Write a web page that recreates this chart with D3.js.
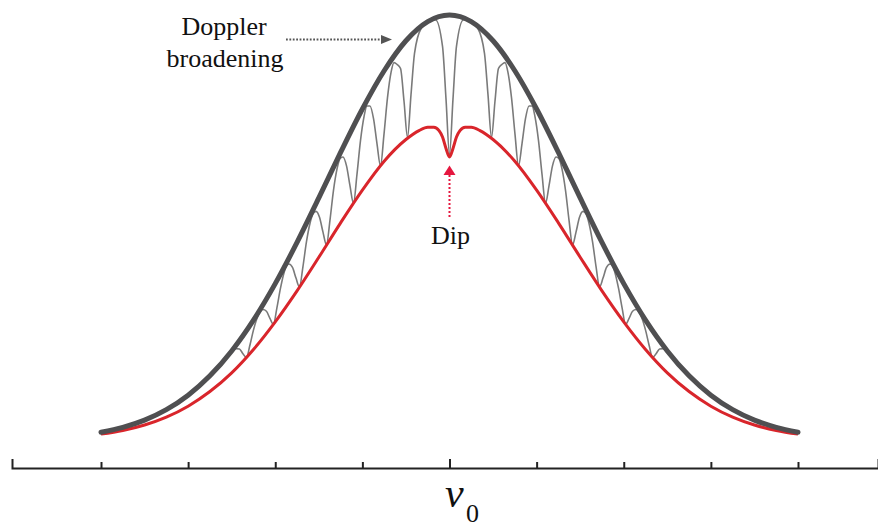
<!DOCTYPE html>
<html><head><meta charset="utf-8">
<script src="https://cdn.jsdelivr.net/npm/d3@7"></script>
<style>html,body{margin:0;padding:0;background:#fff;} svg{display:block;}</style>
</head><body>
<svg id="chart" width="878" height="527"></svg>
<script>
// Frequency axis (detuning, arbitrary units; v0 at 0)
const tickValues = [-4, -3, -2, -1, 0, 1, 2, 3, 4];

// Doppler-broadened envelope (thick gray)
const envelopeV = [-4, -3.75, -3.5, -3.25, -3, -2.75, -2.5, -2.25, -2, -1.75, -1.5, -1.25, -1, -0.75, -0.5, -0.25, 0,
                   0.25, 0.5, 0.75, 1, 1.25, 1.5, 1.75, 2, 2.25, 2.5, 2.75, 3, 3.25, 3.5, 3.75, 4];
const envelopeI = [0.0183, 0.0297, 0.0468, 0.0713, 0.1054, 0.1510, 0.2096, 0.2821, 0.3679, 0.4650, 0.5698, 0.6766, 0.7788, 0.8688, 0.9394, 0.9845, 1.0,
                   0.9845, 0.9394, 0.8688, 0.7788, 0.6766, 0.5698, 0.4650, 0.3679, 0.2821, 0.2096, 0.1510, 0.1054, 0.0713, 0.0468, 0.0297, 0.0183];

// Red profile with central dip
const redV = [-4, -3.75, -3.5, -3.25, -3, -2.75, -2.5, -2.25, -2, -1.75, -1.5, -1.25, -1, -0.75, -0.5, -0.35, -0.25, -0.18, -0.12, -0.08, -0.04, 0,
              0.04, 0.08, 0.12, 0.18, 0.25, 0.35, 0.5, 0.75, 1, 1.25, 1.5, 1.75, 2, 2.25, 2.5, 2.75, 3, 3.25, 3.5, 3.75, 4];
const redI = [0.0138, 0.0224, 0.0353, 0.0538, 0.0796, 0.114, 0.158, 0.213, 0.278, 0.351, 0.430, 0.511, 0.588, 0.656, 0.707, 0.728, 0.736, 0.736, 0.728, 0.713, 0.686, 0.666,
              0.686, 0.713, 0.728, 0.736, 0.736, 0.728, 0.707, 0.656, 0.588, 0.511, 0.430, 0.351, 0.278, 0.213, 0.158, 0.114, 0.0796, 0.0538, 0.0353, 0.0224, 0.0138];

// Thin gray comb (velocity-selective dips)
const thinV = [-2.8, -2.6, -2.52, -2.452, -2.411, -2.371, -2.331, -2.291, -2.251, -2.210, -2.176, -2.142, -2.101, -2.061, -2.021,
               -1.981, -1.941, -1.900, -1.872, -1.843, -1.802, -1.762, -1.722, -1.682, -1.642, -1.601, -1.567, -1.533, -1.492, -1.452,
               -1.412, -1.372, -1.332, -1.291, -1.257, -1.223, -1.182, -1.142, -1.102, -1.062, -1.022, -0.981, -0.947, -0.913, -0.872,
               -0.832, -0.792, -0.752, -0.712, -0.671, -0.637, -0.603, -0.562, -0.522, -0.482, -0.442, -0.402, -0.322, -0.241, -0.161,
               -0.080, -0.040, 0,
               0.040, 0.080, 0.161, 0.241, 0.322, 0.402, 0.442, 0.482, 0.522, 0.562, 0.603, 0.637, 0.671, 0.712, 0.752,
               0.792, 0.832, 0.872, 0.913, 0.947, 0.981, 1.022, 1.062, 1.102, 1.142, 1.182, 1.223, 1.257, 1.291, 1.332,
               1.372, 1.412, 1.452, 1.492, 1.533, 1.567, 1.601, 1.642, 1.682, 1.722, 1.762, 1.802, 1.843, 1.872, 1.900,
               1.941, 1.981, 2.021, 2.061, 2.101, 2.142, 2.176, 2.210, 2.251, 2.291, 2.331, 2.371, 2.411, 2.452, 2.52,
               2.6, 2.8];
const thinI = [0.1409, 0.1845, 0.202, 0.215, 0.214, 0.203, 0.194, 0.223, 0.258, 0.286, 0.301, 0.307, 0.303, 0.286, 0.272,
               0.311, 0.356, 0.393, 0.409, 0.414, 0.406, 0.381, 0.360, 0.408, 0.466, 0.510, 0.532, 0.538, 0.524, 0.489,
               0.459, 0.517, 0.587, 0.638, 0.662, 0.666, 0.645, 0.598, 0.557, 0.625, 0.704, 0.761, 0.786, 0.786, 0.756,
               0.697, 0.645, 0.719, 0.805, 0.865, 0.888, 0.884, 0.874, 0.797, 0.712, 0.812, 0.909, 0.970, 0.984, 0.989,
               0.926, 0.802, 0.672,
               0.802, 0.926, 0.989, 0.984, 0.970, 0.909, 0.812, 0.712, 0.797, 0.874, 0.884, 0.888, 0.865, 0.805, 0.719,
               0.645, 0.697, 0.756, 0.786, 0.786, 0.761, 0.704, 0.625, 0.557, 0.598, 0.645, 0.666, 0.662, 0.638, 0.587,
               0.517, 0.459, 0.489, 0.524, 0.538, 0.532, 0.510, 0.466, 0.408, 0.360, 0.381, 0.406, 0.414, 0.409, 0.393,
               0.356, 0.311, 0.272, 0.286, 0.303, 0.307, 0.301, 0.286, 0.258, 0.223, 0.194, 0.203, 0.214, 0.215, 0.202,
               0.1845, 0.1409];

const axisLabel = "v";
const axisSub = "0";
const annoDoppler = ["Doppler", "broadening"];
const annoDip = "Dip";

const SERIF = '"Liberation Serif"';
const svg = d3.select("#chart");
const x = d3.scaleLinear().domain([-4, 4]).range([101, 798]);
const y = d3.scaleLinear().domain([0, 1]).range([440, 15]);

// Axis
const xAxisScale = d3.scaleLinear().domain([x.invert(12), x.invert(878)]).range([12, 878]);
const axisG = svg.append("g").attr("transform", "translate(0,468)")
  .call(d3.axisTop(xAxisScale).tickValues(tickValues).tickSize(6).tickSizeOuter(9).tickFormat(""));
axisG.select(".domain").attr("stroke", "#222").attr("stroke-width", 2);
axisG.selectAll(".tick line").attr("stroke", "#222").attr("stroke-width", 2)
  .attr("y2", d => d === 0 ? -9 : -6);

const line = d3.line().x(d => x(d[0])).y(d => y(d[1])).curve(d3.curveMonotoneX);

svg.append("path").datum(d3.zip(thinV, thinI)).attr("d", line)
  .attr("fill", "none").attr("stroke", "#7a7a7a").attr("stroke-width", 1.6);
svg.append("path").datum(d3.zip(redV, redI)).attr("d", line)
  .attr("fill", "none").attr("stroke", "#d9252b").attr("stroke-width", 3);
svg.append("path").datum(d3.zip(envelopeV, envelopeI)).attr("d", line)
  .attr("fill", "none").attr("stroke", "#4f4f51").attr("stroke-width", 5).attr("stroke-linecap", "round");

// Doppler broadening annotation
const dt = svg.append("text").style("font-family", SERIF).style("font-size", "26px").attr("fill", "#111")
  .attr("text-anchor", "middle");
dt.append("tspan").attr("x", 224).attr("y", 35).text(annoDoppler[0]);
dt.append("tspan").attr("x", 225).attr("y", 67).text(annoDoppler[1]);
svg.append("line").attr("x1", 286).attr("x2", 382).attr("y1", 39.5).attr("y2", 39.5)
  .attr("stroke", "#555").attr("stroke-width", 2).attr("stroke-dasharray", "1.8,1.6");
svg.append("path").attr("d", "M381,35L392,39.5L381,44Z").attr("fill", "#555");

// Dip annotation
const xd = x(0);
const dipColor = "#e5173f";
svg.append("path").attr("d", `M${xd - 6},175L${xd},165.5L${xd + 6},175Z`).attr("fill", dipColor);
svg.append("line").attr("x1", xd).attr("x2", xd).attr("y1", 175).attr("y2", 217)
  .attr("stroke", dipColor).attr("stroke-width", 2).attr("stroke-dasharray", "2,2");
svg.append("text").attr("x", xd + 1).attr("y", 244).attr("text-anchor", "middle")
  .style("font-family", SERIF).style("font-size", "26px").attr("fill", "#111").text(annoDip);

// Axis label v0
const lt = svg.append("text").style("font-family", SERIF).attr("fill", "#111");
lt.append("tspan").attr("x", 445).attr("y", 507).style("font-size", "42px").style("font-style", "italic").text(axisLabel);
lt.append("tspan").attr("x", 466).attr("y", 522).style("font-size", "26px").text(axisSub);
</script>
</body></html>
